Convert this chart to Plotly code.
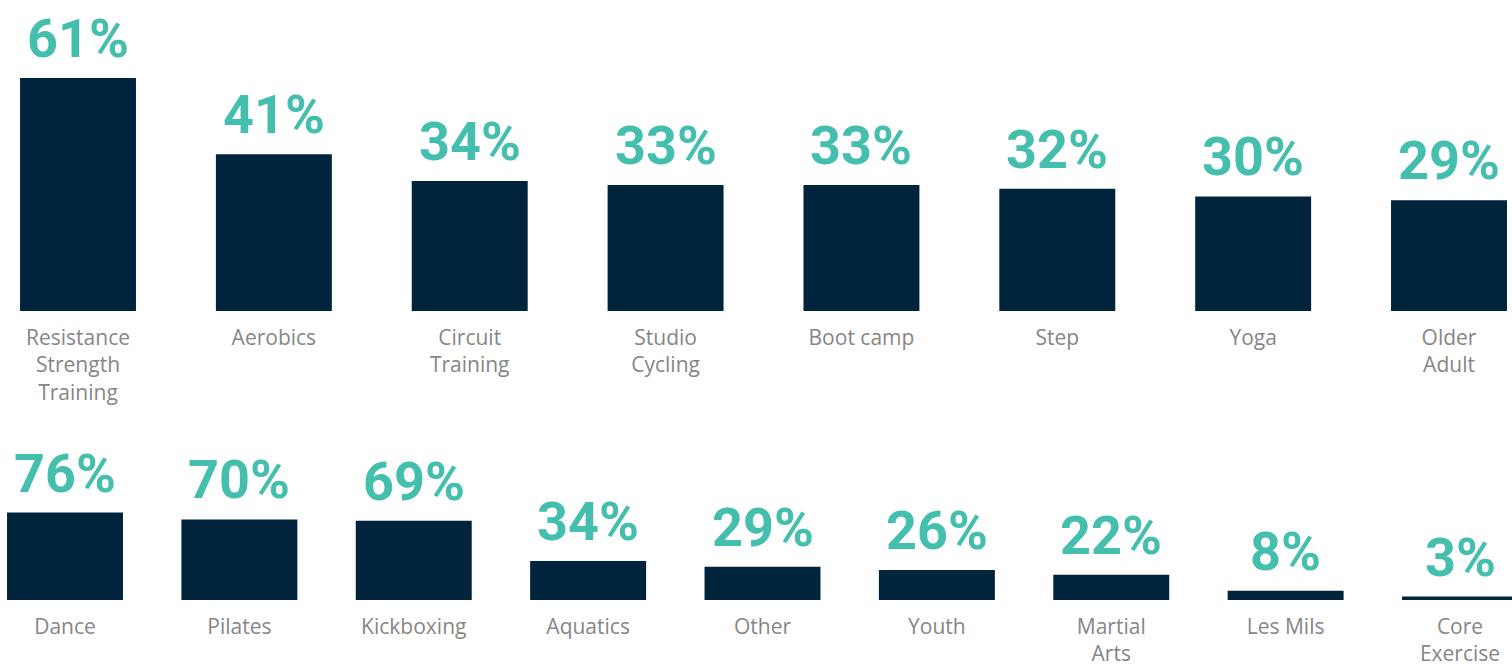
import plotly.graph_objects as go

top_categories = ["Resistance<br>Strength<br>Training", "Aerobics", "Circuit<br>Training",
                  "Studio<br>Cycling", "Boot camp", "Step", "Yoga", "Older<br>Adult"]
top_values = [61, 41, 34, 33, 33, 32, 30, 29]

bottom_categories = ["Dance", "Pilates", "Kickboxing", "Aquatics", "Other", "Youth",
                     "Martial<br>Arts", "Les Mils", "Core<br>Exercise"]
bottom_values = [76, 70, 69, 34, 29, 26, 22, 8, 3]

BAR = "#00243b"
TEAL = "#45bfad"
GRAY = "#868686"
VAL_FONT = dict(family="Roboto", size=54, color=TEAL, weight="bold")
LAB_FONT = dict(family="Open Sans", size=21, color=GRAY)

fig = go.Figure()
fig.add_trace(go.Bar(
    x=list(range(len(top_values))), y=top_values,
    marker=dict(color=BAR, line=dict(width=0)),
    width=0.592, cliponaxis=False, xaxis="x", yaxis="y", showlegend=False,
    hoverinfo="skip"))
fig.add_trace(go.Bar(
    x=list(range(len(bottom_values))), y=bottom_values,
    marker=dict(color=BAR, line=dict(width=0)),
    width=0.665, cliponaxis=False, xaxis="x2", yaxis="y2", showlegend=False,
    hoverinfo="skip"))

annotations = []
for i, v in enumerate(top_values):
    annotations.append(dict(x=i, y=v, xref="x", yref="y", text=f"{v}%",
                            showarrow=False, yanchor="bottom", yshift=6,
                            font=VAL_FONT))
for i, v in enumerate(bottom_values):
    annotations.append(dict(x=i, y=v, xref="x2", yref="y2", text=f"{v}%",
                            showarrow=False, yanchor="bottom", yshift=6,
                            font=VAL_FONT))

axis_common = dict(showgrid=False, zeroline=False, showline=False, ticks="",
                   fixedrange=True, automargin=False)
fig.update_layout(
    width=1512, height=664,
    margin=dict(l=0, r=0, t=0, b=0, autoexpand=False),
    paper_bgcolor="white", plot_bgcolor="white",
    annotations=annotations,
    xaxis=dict(domain=[0, 1], range=[-0.3983, 7.3216], anchor="y",
               tickmode="array", tickvals=list(range(len(top_categories))),
               ticktext=top_categories, tickfont=LAB_FONT, ticklabelstandoff=12,
               **axis_common),
    yaxis=dict(domain=[0.53163, 1], range=[0, 81.4], showticklabels=False,
               anchor="x", **axis_common),
    xaxis2=dict(domain=[0, 1], range=[-0.3728, 8.2982], anchor="y2",
                tickmode="array", tickvals=list(range(len(bottom_categories))),
                ticktext=bottom_categories, tickfont=LAB_FONT, ticklabelstandoff=12,
                **axis_common),
    yaxis2=dict(domain=[0.09639, 0.3675], range=[0, 156.5], showticklabels=False,
                anchor="x2", **axis_common),
)

fig.write_html("out.html")
